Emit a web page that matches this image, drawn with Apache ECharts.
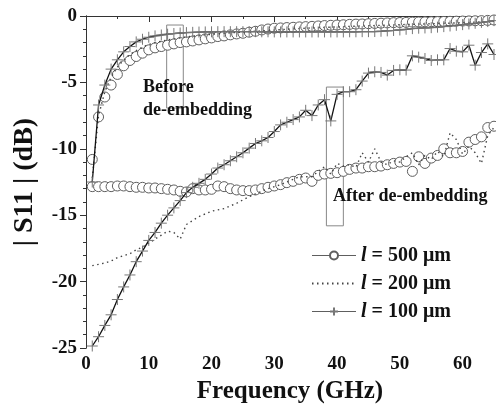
<!DOCTYPE html>
<html>
<head>
<meta charset="utf-8">
<script src="https://cdn.jsdelivr.net/npm/echarts@6/dist/echarts.min.js"></script>
<style>html,body{margin:0;padding:0;background:#fff}#c{width:496px;height:410px}</style>
</head>
<body>
<div id="c"></div>
<script>
const FONT = '"Liberation Serif", "Times New Roman", serif';
const freq = Array.from({length:65}, (_, i) => i + 1);
const xTickLabels = [0, 10, 20, 30, 40, 50, 60];
const xMinorTicks = [5, 15, 25, 35, 45, 55];
const legendNames = ['l = 500 \u03bcm', 'l = 200 \u03bcm', 'l = 100 \u03bcm'];

// Before de-embedding
const before500 = [-10.8,-7.6,-6.1,-5.2,-4.4,-3.75,-3.35,-3.05,-2.8,-2.55,-2.4,-2.3,-2.2,-2.1,-2.0,-1.95,-1.88,-1.8,-1.72,-1.65,-1.55,-1.5,-1.42,-1.35,-1.3,-1.22,-1.15,-1.05,-0.98,-0.92,-0.9,-0.87,-0.85,-0.82,-0.8,-0.78,-0.75,-0.72,-0.7,-0.68,-0.66,-0.63,-0.61,-0.6,-0.58,-0.56,-0.54,-0.52,-0.5,-0.49,-0.48,-0.46,-0.45,-0.44,-0.43,-0.42,-0.41,-0.4,-0.39,-0.38,-0.37,-0.36,-0.35,-0.33,-0.3];
const before200 = [-12.2,-7.5,-5.7,-4.6,-3.85,-3.3,-2.9,-2.6,-2.35,-2.15,-2.0,-1.9,-1.8,-1.72,-1.65,-1.58,-1.52,-1.47,-1.42,-1.38,-1.34,-1.3,-1.27,-1.24,-1.21,-1.18,-1.15,-1.12,-1.09,-1.06,-1.03,-1.0,-0.97,-0.95,-0.92,-0.9,-0.88,-0.86,-0.84,-0.82,-0.8,-0.78,-0.77,-0.75,-0.73,-0.72,-0.7,-0.69,-0.67,-0.66,-0.64,-0.63,-0.61,-0.6,-0.58,-0.57,-0.55,-0.54,-0.52,-0.5,-0.48,-0.46,-0.44,-0.42,-0.4];
const before100 = [-12.5,-6.7,-5.2,-4.0,-3.3,-2.7,-2.3,-1.95,-1.75,-1.6,-1.5,-1.43,-1.37,-1.32,-1.28,-1.25,-1.23,-1.21,-1.2,-1.19,-1.18,-1.18,-1.18,-1.18,-1.18,-1.18,-1.18,-1.19,-1.19,-1.2,-1.2,-1.2,-1.2,-1.2,-1.2,-1.2,-1.2,-1.2,-1.2,-1.2,-1.2,-1.19,-1.19,-1.18,-1.18,-1.17,-1.15,-1.12,-1.09,-1.05,-1.0,-0.95,-0.92,-0.9,-0.88,-0.84,-0.8,-0.75,-0.7,-0.65,-0.6,-0.55,-0.48,-0.42,-0.35];

// After de-embedding
const after500 = [-12.85,-12.85,-12.85,-12.85,-12.8,-12.8,-12.85,-12.9,-12.9,-12.95,-12.95,-13.0,-13.05,-13.1,-13.2,-13.25,-13.0,-13.1,-13.1,-13.05,-12.8,-12.85,-13.0,-13.1,-13.15,-13.15,-13.1,-13.0,-12.9,-12.8,-12.7,-12.55,-12.45,-12.3,-12.2,-12.45,-12.0,-11.9,-11.85,-11.8,-11.7,-11.55,-11.45,-11.45,-11.35,-11.35,-11.3,-11.2,-11.1,-11.0,-10.95,-11.7,-10.6,-11.1,-10.7,-10.5,-10.0,-10.3,-10.3,-10.2,-9.5,-9.3,-9.1,-8.4,-8.3];
const after200 = [-18.8,-18.7,-18.6,-18.45,-18.2,-18.05,-17.9,-17.6,-17.4,-17.1,-16.8,-16.5,-16.2,-16.3,-16.8,-15.7,-15.4,-15.1,-14.9,-14.7,-14.6,-14.5,-14.3,-14.1,-13.85,-13.6,-13.4,-13.2,-13.0,-12.85,-12.7,-12.5,-12.3,-12.1,-12.1,-12.1,-11.7,-11.35,-11.9,-11.1,-11.3,-11.2,-11.4,-10.3,-11.0,-10.0,-11.0,-11.2,-10.9,-11.0,-10.6,-10.3,-11.2,-10.5,-10.8,-10.2,-10.6,-8.8,-9.3,-10.4,-9.8,-10.3,-11.1,-9.0,-8.4];
const after100 = [-24.85,-24.15,-23.3,-22.5,-21.35,-20.4,-19.5,-18.5,-17.7,-16.9,-16.3,-15.6,-15.0,-14.45,-13.9,-13.3,-12.9,-12.6,-12.3,-11.9,-11.45,-11.2,-10.9,-10.6,-10.3,-9.95,-9.6,-9.4,-9.15,-8.7,-8.2,-8.0,-7.8,-7.6,-7.1,-7.5,-6.7,-6.3,-7.9,-5.9,-5.7,-5.7,-5.55,-4.9,-4.3,-4.2,-4.25,-4.45,-4.1,-4.05,-4.07,-3.0,-3.1,-3.2,-3.35,-3.3,-3.3,-2.45,-2.65,-2.7,-2.2,-3.7,-2.75,-2.1,-2.9];

// Annotation boxes [x1, y1, x2, y2] in data units
const boxes = [[12.85,-0.68,15.5,-6.93],[38.3,-5.35,41.0,-15.8]];

const pair = arr => arr.map((v, i) => [freq[i], v]);
const crossPath = 'path://M0,5L10,5M5,0L5,10';

const circleStyle = {symbol:'circle', symbolSize:10, showAllSymbol:true,
  itemStyle:{color:'#fff', borderColor:'#5e5e5e', borderWidth:1},
  lineStyle:{color:'#5e5e5e', width:0}};
const dotStyle = {symbol:'circle', showSymbol:false, symbolSize:0,
  lineStyle:{color:'#444', width:1.4, type:[1.5,3.5]},
  itemStyle:{color:'rgba(0,0,0,0)', borderColor:'rgba(0,0,0,0)'}};
const crossStyle = {symbol:crossPath, symbolSize:11, showAllSymbol:true,
  itemStyle:{color:'none', borderColor:'#777', borderWidth:1},
  lineStyle:{color:'#111', width:1.3}};

const series = [
  Object.assign({type:'line', name:legendNames[0], data:pair(before500), z:2}, circleStyle),
  Object.assign({type:'line', name:legendNames[0], data:pair(after500), z:2}, circleStyle),
  Object.assign({type:'line', name:legendNames[1], data:pair(before200), z:3}, dotStyle),
  Object.assign({type:'line', name:legendNames[1], data:pair(after200), z:3}, dotStyle),
  Object.assign({type:'line', name:legendNames[2], data:pair(before100), z:4}, crossStyle),
  Object.assign({type:'line', name:legendNames[2], data:pair(after100), z:4}, crossStyle, {
    markArea:{silent:true, label:{show:false},
      itemStyle:{color:'rgba(0,0,0,0)', borderColor:'#888', borderWidth:1},
      data: boxes.map(b => [{coord:[b[0], b[1]]}, {coord:[b[2], b[3]]}])}
  })
];

const axisLineStyle = {show:true, lineStyle:{color:'#333', width:1}};
const lbl = {fontFamily:FONT, fontWeight:'bold', fontSize:19, color:'#111'};

const option = {
  animation:false,
  backgroundColor:'#fff',
  grid:{left:86, right:2, top:16, bottom:62, containLabel:false},
  xAxis:[
    {type:'value', position:'bottom', min:0, max:65, axisLine:axisLineStyle, splitLine:{show:false},
     axisTick:{show:true, customValues:xTickLabels, length:6, lineStyle:{color:'#333'}},
     axisLabel:Object.assign({customValues:xTickLabels, margin:7}, lbl),
     name:'Frequency (GHz)', nameLocation:'middle', nameGap:30,
     nameTextStyle:{fontFamily:FONT, fontWeight:'bold', fontSize:25, color:'#111'}},
    {type:'value', position:'bottom', min:0, max:65, axisLine:{show:false}, splitLine:{show:false},
     axisTick:{show:true, customValues:xMinorTicks, length:3, lineStyle:{color:'#333'}}, axisLabel:{show:false}},
    {type:'value', position:'top', min:0, max:65, axisLine:axisLineStyle, splitLine:{show:false},
     axisTick:{show:true, inside:true, customValues:xTickLabels, length:5, lineStyle:{color:'#333'}}, axisLabel:{show:false}},
    {type:'value', position:'top', min:0, max:65, axisLine:{show:false}, splitLine:{show:false},
     axisTick:{show:true, inside:true, customValues:xMinorTicks, length:3, lineStyle:{color:'#333'}}, axisLabel:{show:false}}
  ],
  yAxis:[
    {type:'value', position:'left', min:-25, max:0, interval:5, axisLine:axisLineStyle, splitLine:{show:false},
     axisTick:{show:true, length:6, lineStyle:{color:'#333'}},
     minorTick:{show:true, splitNumber:5, length:3, lineStyle:{color:'#333'}},
     axisLabel:Object.assign({margin:9}, lbl),
     name:'| S11 | (dB)', nameLocation:'middle', nameGap:47, nameRotate:90,
     nameTextStyle:{fontFamily:FONT, fontWeight:'bold', fontSize:28, color:'#111'}},
    {type:'value', position:'right', min:-25, max:0, interval:5, axisLine:axisLineStyle, splitLine:{show:false},
     axisTick:{show:true, inside:true, length:5, lineStyle:{color:'#333'}},
     minorTick:{show:true, splitNumber:5, length:3, lineStyle:{color:'#333'}},
     axisLabel:{show:false}}
  ],
  legend:{
    data:[
      {name:legendNames[0], lineStyle:{width:1.2, color:'#5e5e5e'}},
      {name:legendNames[1]},
      {name:legendNames[2], lineStyle:{width:1.2, color:'#5e5e5e'}}
    ],
    orient:'vertical', left:306, top:240, itemWidth:44, itemHeight:10, itemGap:7,
    formatter: n => n.replace(/^l/, '{i|l}'),
    textStyle:{fontFamily:FONT, fontWeight:'bold', fontSize:20, color:'#111', lineHeight:21,
      rich:{i:{fontFamily:FONT, fontWeight:'bold', fontStyle:'italic', fontSize:20, color:'#111'}}}},
  graphic:[
    {type:'text', left:143, top:76, z:10, style:{text:'Before\nde-embedding', font:'bold 18px ' + FONT, fill:'#111', lineHeight:23}},
    {type:'text', left:333, top:187, z:10, style:{text:'After de-embedding', font:'bold 18px ' + FONT, fill:'#111'}}
  ],
  series: series
};

echarts.init(document.getElementById('c'), null, {renderer:'canvas'}).setOption(option);
</script>
</body>
</html>
